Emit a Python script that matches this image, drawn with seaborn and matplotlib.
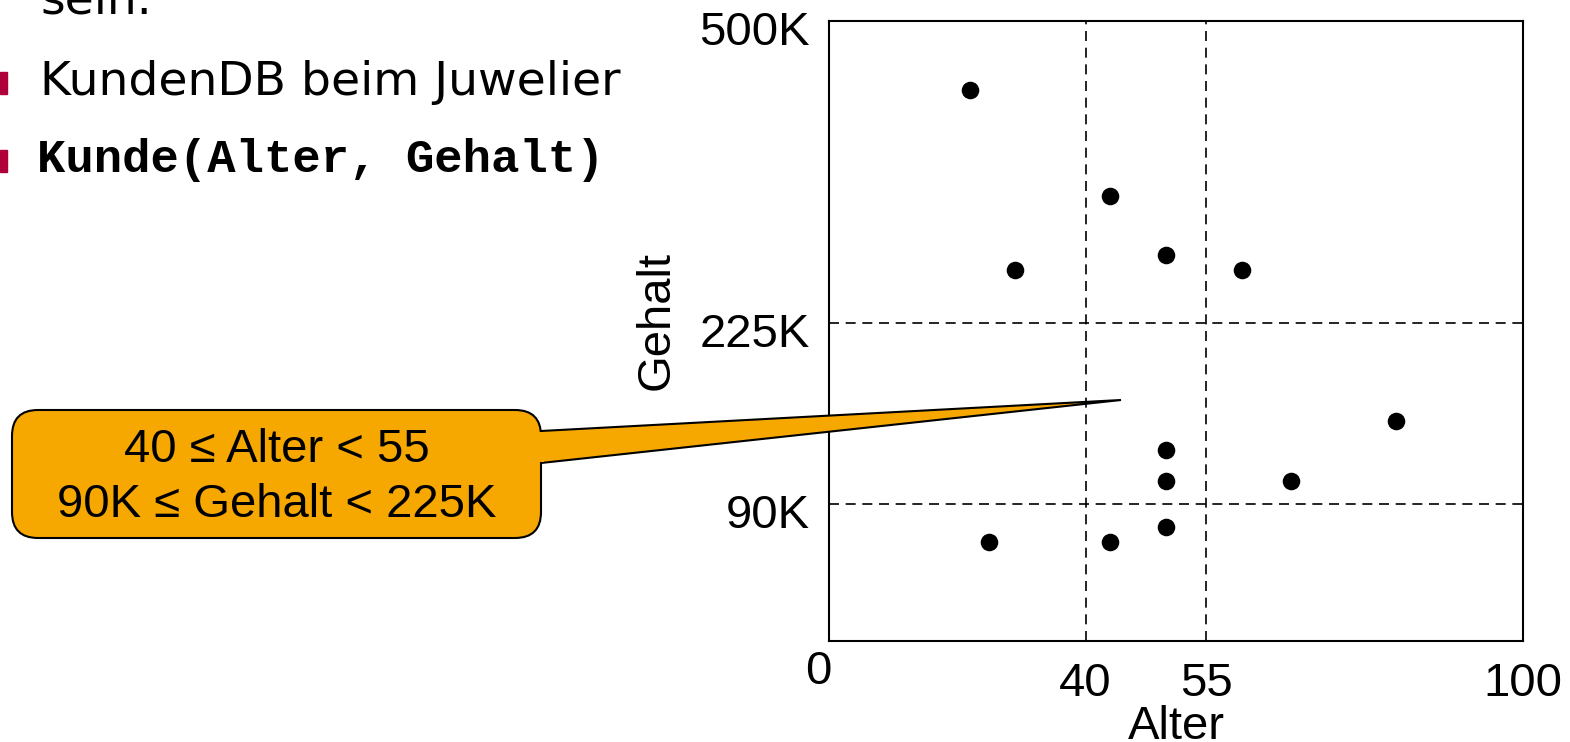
import numpy as np
import pandas as pd
import seaborn as sns
import matplotlib.pyplot as plt
import matplotlib.transforms as mtransforms
from matplotlib.patches import FancyBboxPatch, Polygon, Rectangle

# data (Alter in Jahren, Gehalt in K)
alter = [22, 43, 29, 50, 60, 82, 50, 50, 67, 50, 25, 43]
gehalt = [437, 341, 273, 287, 273, 152, 130, 107, 107, 75, 65, 65]
x_ticks = [0, 40, 55, 100]
x_ticklabels = ["0", "40", "55", "100"]
y_ticks = [90, 225, 500]
y_ticklabels = ["90K", "225K", "500K"]
x_splits = [40, 55]
y_splits = [90, 225]
bullets = ["KundenDB beim Juwelier", "Kunde(Alter, Gehalt)"]
callout = ["40 \u2264 Alter < 55", "90K \u2264 Gehalt < 225K"]

# the axes are not linear: piecewise scale between the split points
X_KNOTS, X_POS = [0, 40, 55, 100], [0, 257, 378, 695]
Y_KNOTS, Y_POS = [0, 90, 225, 500], [0, 137, 318, 620]


def piecewise(knots, pos):
    fwd = lambda v: np.interp(v, knots, pos, left=-1e3, right=1e4)
    inv = lambda v: np.interp(v, pos, knots, left=-1e3, right=1e4)
    return fwd, inv


sns.set_style("white")
plt.rcParams["font.family"] = ["Liberation Sans", "DejaVu Sans"]
plt.rcParams["text.color"] = "black"

W, H = 1570, 742
fig = plt.figure(figsize=(W / 100, H / 100), dpi=100)
# pixel coords, origin top-left
px = mtransforms.Affine2D().scale(1 / W, -1 / H).translate(0, 1) + fig.transFigure

ax = fig.add_axes([829 / W, 1 - 641 / H, (1523 - 829) / W, (641 - 21) / H])
ax.set_xscale("function", functions=piecewise(X_KNOTS, X_POS))
ax.set_yscale("function", functions=piecewise(Y_KNOTS, Y_POS))

df = pd.DataFrame({"Alter": alter, "Gehalt": gehalt})
sns.scatterplot(data=df, x="Alter", y="Gehalt", ax=ax, color="black",
                s=160, linewidth=0, zorder=3)

for v in x_splits:
    ax.axvline(v, color="black", lw=1.2, ls=(0, (6, 4)), zorder=1)
for v in y_splits:
    ax.axhline(v, color="black", lw=1.2, ls=(0, (6, 4)), zorder=1)

ax.set_xlim(0, 100)
ax.set_ylim(0, 500)
ax.set_xticks([])
ax.set_yticks([])
ax.set_xlabel("")
ax.set_ylabel("")
for s in ax.spines.values():
    s.set_color("black")
    s.set_linewidth(1.5)

fs = 34
off = lambda dx, dy: mtransforms.ScaledTranslation(dx / 100, dy / 100, fig.dpi_scale_trans)
for v, lab in zip(x_ticks, x_ticklabels):
    if v == 0:
        tr = ax.get_xaxis_transform() + off(-11, -9)
    else:
        tr = ax.get_xaxis_transform() + off(0, -21)
    ax.text(v, 0, lab, transform=tr, ha="center", va="top", fontsize=fs)
for v, lab in zip(y_ticks, y_ticklabels):
    ax.text(0, v, lab, transform=ax.get_yaxis_transform() + off(-19, -12),
            ha="right", va="center", fontsize=fs)
ax.text(0.5, 0, "Alter", transform=ax.transAxes + off(0, -64),
        ha="center", va="top", fontsize=fs)
ax.text(0, 0.5, "Gehalt", transform=ax.transAxes + off(-172, 11),
        ha="center", va="center", rotation=90, fontsize=fs)

# left side slide text
fig.text(40, 13, "sein.", transform=px, fontsize=34, family="DejaVu Sans",
         va="baseline")
fig.text(40, 95, bullets[0], transform=px, fontsize=34, family="DejaVu Sans",
         va="baseline")
fig.text(37, 172, bullets[1], transform=px, fontsize=34, family="Liberation Mono",
         weight="bold", va="baseline")
for y0 in (72, 150):
    fig.add_artist(Rectangle((0, y0), 7, 22, transform=px, color="#B0003A"))

# callout
orange = "#F7A800"
box = FancyBboxPatch((12, 410), 529, 128, transform=px,
                     boxstyle="round,pad=0,rounding_size=26",
                     fc=orange, ec="black", lw=1.5, zorder=10)
fig.add_artist(box)
tail = Polygon([(541, 431), (1121, 400), (541, 463)], closed=False, transform=px,
               fc=orange, ec="black", lw=1.5, zorder=11)
fig.add_artist(tail)
fig.add_artist(Rectangle((536, 432), 8, 30, transform=px, fc=orange, ec="none",
                         zorder=12))
fig.text(277, 450, callout[0], transform=px, fontsize=fs, ha="center",
         va="center", zorder=13)
fig.text(277, 505, callout[1], transform=px, fontsize=fs, ha="center",
         va="center", zorder=13)

fig.savefig("out.png", dpi=100)
